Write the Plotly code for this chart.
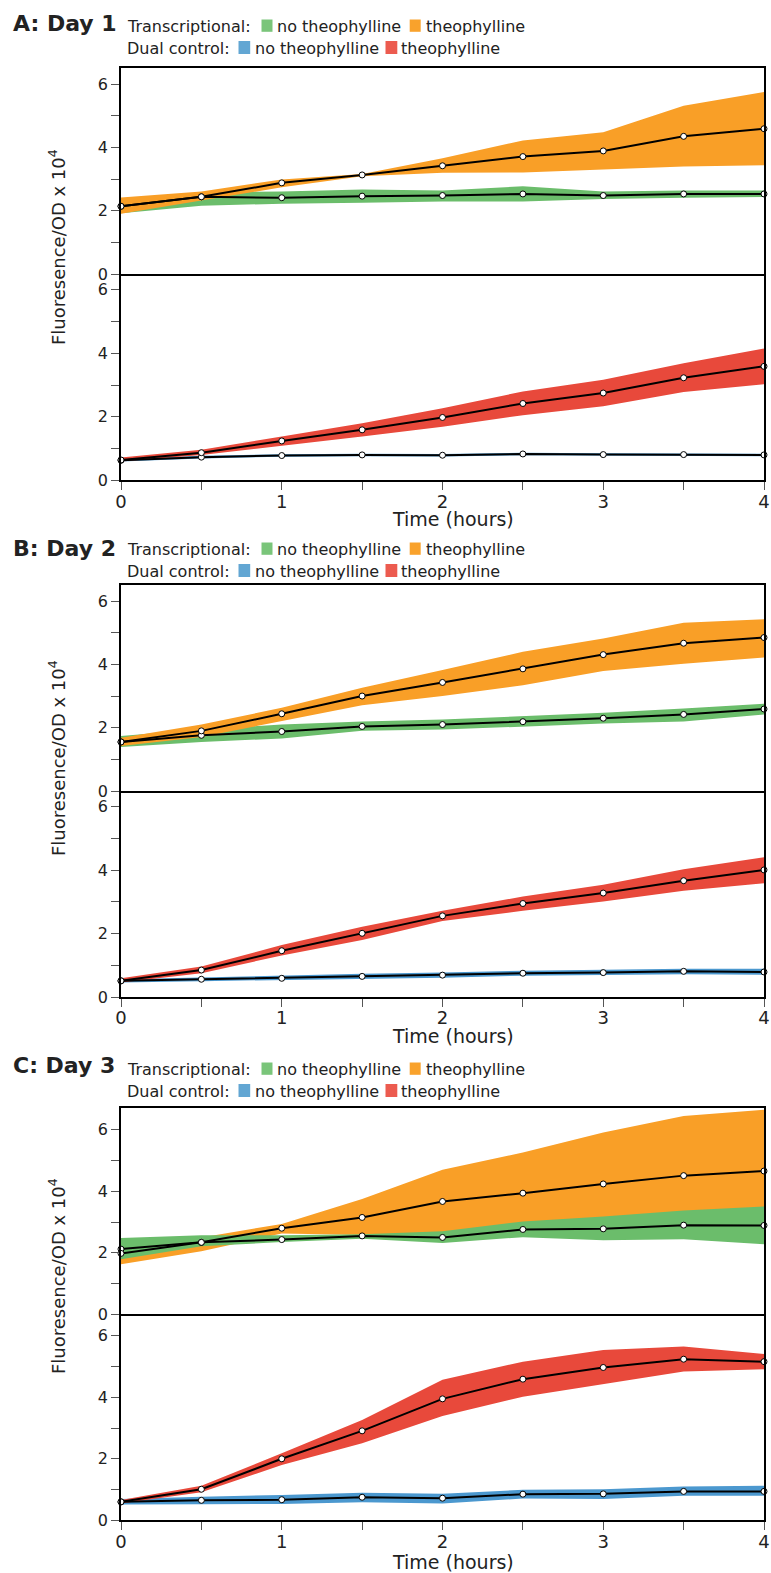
import plotly.graph_objects as go

# ---------------- data ----------------
time_h = [0, 0.5, 1, 1.5, 2, 2.5, 3, 3.5, 4]

# Day 1
d1_tr_noth_mean = [2.14, 2.44, 2.41, 2.46, 2.48, 2.53, 2.48, 2.53, 2.53]
d1_tr_noth_hi   = [2.30, 2.58, 2.61, 2.67, 2.64, 2.77, 2.61, 2.64, 2.64]
d1_tr_noth_lo   = [1.92, 2.16, 2.22, 2.25, 2.29, 2.29, 2.37, 2.41, 2.43]
d1_tr_th_mean   = [2.14, 2.44, 2.88, 3.13, 3.42, 3.71, 3.89, 4.35, 4.59]
d1_tr_th_hi     = [2.42, 2.61, 2.99, 3.16, 3.66, 4.22, 4.48, 5.32, 5.75]
d1_tr_th_lo     = [1.90, 2.32, 2.74, 3.09, 3.20, 3.21, 3.30, 3.40, 3.44]
d1_du_noth_mean = [0.63, 0.73, 0.78, 0.80, 0.79, 0.83, 0.81, 0.81, 0.80]
d1_du_noth_hi   = [0.67, 0.77, 0.82, 0.84, 0.83, 0.87, 0.85, 0.85, 0.84]
d1_du_noth_lo   = [0.59, 0.69, 0.74, 0.76, 0.75, 0.79, 0.77, 0.77, 0.76]
d1_du_th_mean   = [0.64, 0.87, 1.24, 1.59, 1.98, 2.42, 2.75, 3.23, 3.59]
d1_du_th_hi     = [0.72, 0.96, 1.38, 1.80, 2.27, 2.80, 3.17, 3.69, 4.15]
d1_du_th_lo     = [0.59, 0.80, 1.09, 1.38, 1.69, 2.05, 2.33, 2.78, 3.03]

# Day 2
d2_tr_noth_mean = [1.55, 1.76, 1.88, 2.04, 2.10, 2.19, 2.30, 2.42, 2.59]
d2_tr_noth_hi   = [1.74, 1.95, 2.10, 2.20, 2.26, 2.37, 2.47, 2.61, 2.76]
d2_tr_noth_lo   = [1.39, 1.55, 1.66, 1.90, 1.94, 2.03, 2.13, 2.20, 2.42]
d2_tr_th_mean   = [1.55, 1.90, 2.44, 3.00, 3.43, 3.86, 4.31, 4.67, 4.85]
d2_tr_th_hi     = [1.68, 2.10, 2.63, 3.26, 3.82, 4.40, 4.82, 5.32, 5.43]
d2_tr_th_lo     = [1.42, 1.71, 2.20, 2.71, 3.00, 3.34, 3.79, 4.02, 4.22]
d2_du_noth_mean = [0.51, 0.56, 0.59, 0.65, 0.69, 0.75, 0.77, 0.81, 0.79]
d2_du_noth_hi   = [0.56, 0.62, 0.66, 0.73, 0.77, 0.83, 0.86, 0.89, 0.89]
d2_du_noth_lo   = [0.46, 0.50, 0.53, 0.58, 0.61, 0.67, 0.69, 0.72, 0.70]
d2_du_th_mean   = [0.51, 0.85, 1.46, 2.01, 2.56, 2.95, 3.28, 3.67, 4.01]
d2_du_th_hi     = [0.59, 0.96, 1.64, 2.22, 2.72, 3.17, 3.54, 4.03, 4.41]
d2_du_th_lo     = [0.46, 0.75, 1.31, 1.80, 2.40, 2.72, 3.01, 3.35, 3.59]

# Day 3
d3_tr_noth_mean = [2.12, 2.34, 2.43, 2.55, 2.50, 2.76, 2.78, 2.90, 2.89]
d3_tr_noth_hi   = [2.48, 2.57, 2.57, 2.60, 2.70, 3.02, 3.18, 3.38, 3.51]
d3_tr_noth_lo   = [1.79, 2.21, 2.35, 2.46, 2.32, 2.51, 2.41, 2.44, 2.28]
d3_tr_th_mean   = [1.98, 2.34, 2.80, 3.15, 3.67, 3.94, 4.24, 4.51, 4.66]
d3_tr_th_hi     = [2.35, 2.50, 2.94, 3.75, 4.70, 5.26, 5.91, 6.45, 6.65]
d3_tr_th_lo     = [1.63, 2.05, 2.63, 2.58, 2.62, 2.85, 3.00, 3.20, 3.35]
d3_du_noth_mean = [0.60, 0.65, 0.67, 0.75, 0.72, 0.85, 0.86, 0.94, 0.94]
d3_du_noth_hi   = [0.69, 0.77, 0.82, 0.90, 0.86, 0.99, 1.01, 1.10, 1.12]
d3_du_noth_lo   = [0.51, 0.52, 0.53, 0.59, 0.55, 0.71, 0.69, 0.80, 0.80]
d3_du_th_mean   = [0.60, 1.01, 2.00, 2.91, 3.95, 4.59, 4.97, 5.24, 5.16]
d3_du_th_hi     = [0.66, 1.12, 2.18, 3.26, 4.57, 5.16, 5.54, 5.65, 5.41]
d3_du_th_lo     = [0.55, 0.91, 1.80, 2.51, 3.39, 4.02, 4.43, 4.84, 4.91]

panel_titles = ["A: Day 1", "B: Day 2", "C: Day 3"]

# ---------------- style ----------------
W, H = 771, 1573
FONT = "DejaVu Sans"
C_GREEN = "#6bbd6b"
C_ORANGE = "#f99f27"
C_BLUE = "#4b98cf"
C_RED = "#e8493b"
SW_GREEN = "#7ac57a"
SW_ORANGE = "#f9a22c"
SW_BLUE = "#62a6d3"
SW_RED = "#ec5b4f"
TXT = "#222222"
TICKC = "#555555"

def px(p):
    return p / W

def py(p):
    return 1 - p / H

X0, X1 = 121, 764
panels = [
    dict(top=68.3, mid=274.0, bot=480.3, ymax=6.5, off=0.0, toff=0.0, timey=519, ylab=247,
         tr=[(d1_tr_noth_hi, d1_tr_noth_lo, C_GREEN), (d1_tr_th_hi, d1_tr_th_lo, C_ORANGE)],
         trm=[d1_tr_noth_mean, d1_tr_th_mean],
         du=[(d1_du_noth_hi, d1_du_noth_lo, C_BLUE), (d1_du_th_hi, d1_du_th_lo, C_RED)],
         dum=[d1_du_noth_mean, d1_du_th_mean]),
    dict(top=585.3, mid=791.0, bot=997.0, ymax=6.5, off=523.0, toff=525.0, timey=1036, ylab=758,
         tr=[(d2_tr_noth_hi, d2_tr_noth_lo, C_GREEN), (d2_tr_th_hi, d2_tr_th_lo, C_ORANGE)],
         trm=[d2_tr_noth_mean, d2_tr_th_mean],
         du=[(d2_du_noth_hi, d2_du_noth_lo, C_BLUE), (d2_du_th_hi, d2_du_th_lo, C_RED)],
         dum=[d2_du_noth_mean, d2_du_th_mean]),
    dict(top=1108.3, mid=1314.3, bot=1520.3, ymax=6.7, off=1043.0, toff=1042.4, timey=1562, ylab=1276,
         tr=[(d3_tr_th_hi, d3_tr_th_lo, C_ORANGE), (d3_tr_noth_hi, d3_tr_noth_lo, C_GREEN)],
         trm=[d3_tr_noth_mean, d3_tr_th_mean],
         du=[(d3_du_noth_hi, d3_du_noth_lo, C_BLUE), (d3_du_th_hi, d3_du_th_lo, C_RED)],
         dum=[d3_du_noth_mean, d3_du_th_mean]),
]

fig = go.Figure()
layout = dict(
    width=W, height=H,
    margin=dict(l=0, r=0, t=0, b=0, autoexpand=False),
    paper_bgcolor="white", plot_bgcolor="white",
    showlegend=False, template="none",
    font=dict(family=FONT, color=TXT),
)
annotations = []
shapes = []

def add_band(k, hi, lo, color):
    fig.add_trace(go.Scatter(
        x=time_h + time_h[::-1], y=hi + lo[::-1], fill="toself", fillcolor=color,
        mode="lines", line=dict(width=0, color=color), hoverinfo="skip",
        xaxis=f"x{k}", yaxis=f"y{k}"))

def add_mean(k, y):
    fig.add_trace(go.Scatter(
        x=time_h, y=y, mode="lines+markers", cliponaxis=False,
        line=dict(color="black", width=2),
        marker=dict(size=6, color="white", line=dict(color="black", width=1)),
        xaxis=f"x{k}", yaxis=f"y{k}"))

for i, p in enumerate(panels):
    kt, kb = 2 * i + 1, 2 * i + 2
    for hi, lo, c in p["tr"]:
        add_band(kt, hi, lo, c)
    for m in p["trm"]:
        add_mean(kt, m)
    for hi, lo, c in p["du"]:
        add_band(kb, hi, lo, c)
    for m in p["dum"]:
        add_mean(kb, m)

    yax_common = dict(
        range=[0, p["ymax"]], tickmode="linear", tick0=0, dtick=2,
        ticks="outside", ticklen=8, tickwidth=1, tickcolor=TICKC,
        minor=dict(tick0=0, dtick=1, ticks="outside", ticklen=8, tickwidth=1,
                   tickcolor=TICKC, showgrid=False),
        tickfont=dict(family=FONT, size=16, color=TXT),
        showline=True, linecolor="black", linewidth=1.5, mirror=True,
        showgrid=False, zeroline=False, fixedrange=True,
    )
    layout[f"yaxis{kt}"] = dict(yax_common, domain=[py(p["mid"]), py(p["top"])], anchor=f"x{kt}")
    layout[f"yaxis{kb}"] = dict(yax_common, domain=[py(p["bot"]), py(p["mid"])], anchor=f"x{kb}")
    layout[f"xaxis{kt}"] = dict(
        range=[0, 4], domain=[px(X0), px(X1)], anchor=f"y{kt}",
        showticklabels=False, ticks="", showline=True, linecolor="black", linewidth=1.5,
        mirror=True, showgrid=False, zeroline=False, fixedrange=True)
    layout[f"xaxis{kb}"] = dict(
        range=[0, 4], domain=[px(X0), px(X1)], anchor=f"y{kb}",
        tickmode="linear", tick0=0, dtick=1,
        ticks="outside", ticklen=8, tickwidth=1, tickcolor=TICKC,
        minor=dict(tick0=0, dtick=0.5, ticks="outside", ticklen=8, tickwidth=1,
                   tickcolor=TICKC, showgrid=False),
        tickfont=dict(family=FONT, size=18, color=TXT), ticklabelstandoff=-4,
        showline=True, linecolor="black", linewidth=1.5, mirror=False,
        showgrid=False, zeroline=False, fixedrange=True)

    # panel title
    annotations.append(dict(
        text=f"<b>{panel_titles[i]}</b>", x=px(11), y=py(23.5 + p["toff"]),
        xref="paper", yref="paper", xanchor="left", yanchor="middle",
        showarrow=False, font=dict(family=FONT, size=22, color=TXT)))
    # legend text lines
    o = p["off"]
    y1, y2 = 26.5 + o, 48.5 + o
    for txt, x, y in [("Transcriptional:", 125, y1), ("no theophylline", 274.5, y1),
                      ("theophylline", 424, y1), ("Dual control:", 125, y2),
                      ("no theophylline", 253, y2), ("theophylline", 399, y2)]:
        annotations.append(dict(
            text=txt, x=px(x), y=py(y), xref="paper", yref="paper",
            xanchor="left", yanchor="middle", showarrow=False,
            font=dict(family=FONT, size=16, color=TXT)))
    for x0, x1, yt, yb, c in [(261.5, 272.5, 19.5 + o, 31.8 + o, SW_GREEN),
                              (409.7, 420.7, 19.5 + o, 31.8 + o, SW_ORANGE),
                              (238.5, 250.2, 41.0 + o, 54.0 + o, SW_BLUE),
                              (385.5, 397.3, 41.0 + o, 54.0 + o, SW_RED)]:
        shapes.append(dict(type="rect", xref="paper", yref="paper",
                           x0=px(x0), x1=px(x1), y0=py(yb), y1=py(yt),
                           fillcolor=c, line=dict(width=0), layer="above"))
    # time label
    annotations.append(dict(
        text="Time (hours)", x=px(453), y=py(p["timey"]), xref="paper", yref="paper",
        xanchor="center", yanchor="middle", showarrow=False,
        font=dict(family=FONT, size=19, color=TXT)))
    # y label
    annotations.append(dict(
        text="Fluoresence/OD x 10<sup>4</sup>", x=px(57), y=py(p["ylab"]),
        xref="paper", yref="paper", xanchor="center", yanchor="middle",
        textangle=-90, showarrow=False, font=dict(family=FONT, size=18, color=TXT)))

layout["annotations"] = annotations
layout["shapes"] = shapes
fig.update_layout(**layout)
fig.write_html("out.html")
